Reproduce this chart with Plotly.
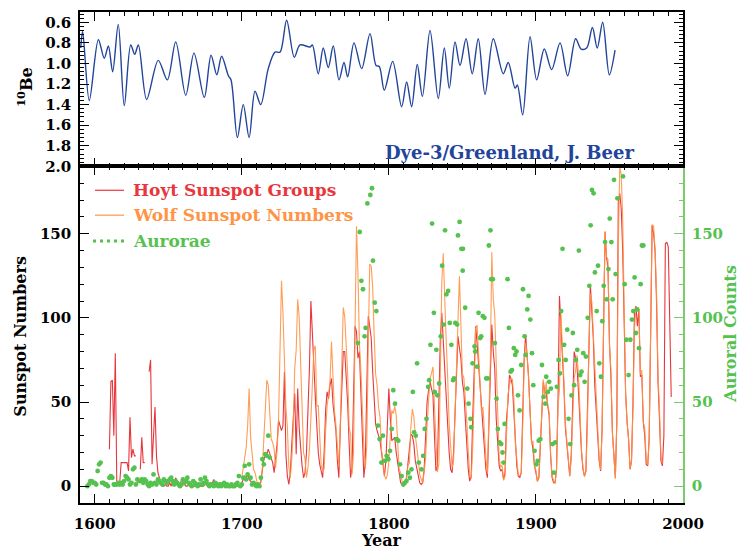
import plotly.graph_objects as go

# ---------------- data ----------------
be_years = [1590.5, 1591.8, 1596.3, 1602.5, 1606.5, 1609.3, 1612.2, 1616.0, 1620.1, 1624.5,
            1627.2, 1629.7, 1635.3, 1643.2, 1649.4, 1655.1, 1661.9, 1667.5, 1674.5, 1679.1,
            1683.0, 1686.3, 1690.9, 1692.7, 1697.0, 1701.0, 1705.0, 1709.0, 1712.9, 1718.0,
            1722.6, 1726.0, 1730.5, 1735.7, 1739.6, 1746.4, 1748.0, 1752.0, 1755.4, 1758.8,
            1762.2, 1766.1, 1769.5, 1772.0, 1776.3, 1781.5, 1787.2, 1791.3, 1793.5, 1796.9,
            1802.6, 1808.7, 1812.1, 1815.5, 1819.3, 1822.8, 1828.0, 1833.6, 1837.7, 1841.1,
            1845.0, 1848.4, 1852.5, 1856.7, 1860.8, 1865.4, 1871.0, 1877.8, 1881.2, 1885.8,
            1887.4, 1891.0, 1896.0, 1900.5, 1905.7, 1910.7, 1916.4, 1921.6, 1927.0, 1930.7,
            1934.5, 1938.4, 1941.7, 1945.4, 1949.9, 1953.8]
be_vals = [0.85, 0.69, 1.36, 0.77, 0.95, 0.83, 1.08, 0.62, 1.41, 0.82,
           0.91, 0.82, 1.35, 0.97, 1.16, 0.79, 1.31, 0.90, 1.33, 0.92,
           1.11, 0.93, 1.12, 1.16, 1.72, 1.40, 1.72, 1.27, 1.40, 1.05,
           0.89, 0.89, 0.58, 0.94, 0.82, 0.84, 0.82, 1.10, 0.85, 1.04,
           0.83, 1.16, 0.99, 1.13, 0.80, 1.05, 0.71, 1.02, 1.03, 1.26,
           0.98, 1.42, 1.18, 1.42, 1.01, 1.32, 0.68, 1.34, 0.85, 1.24,
           0.79, 1.02, 0.76, 1.10, 0.76, 1.30, 0.76, 1.10, 0.99, 1.24,
           1.21, 1.50, 0.74, 1.16, 0.86, 1.06, 0.80, 1.12, 0.76, 0.86,
           0.85, 0.65, 0.85, 0.60, 1.11, 0.87]

hoyt_start = 1610
hoyt_vals = [
    # 1610-1699
    22, 62, 63, 30, 79, 3, 2, 2, 14, 14, 14, 14, 14, 9, 41, 17, 22, 18, 18, None,
    None, 10, 29, 14, 14, None, None, 68, 75, 13, 30, 47, 18, 8, 5, 2, 0, 0, 1, 0,
    0, 2, 0, 3, 0, 5, 3, 1, 0, 4, 3, 1, 0, 0, 1, 0, 0, 0, 0, 0,
    1, 0, 0, 0, 0, 1, 3, 0, 0, 0, 2, 4, 0, 0, 1, 0, 1, 0, 0, 0,
    0, 0, 0, 0, 0, 0, 0, 0, 0, 1,
    # 1700-1799
    2, 4, 6, 5, 7, 4, 3, 2, 1, 0, 0, 0, 0, 3, 10, 16, 18, 19, 22, 19,
    17, 14, 8, 15, 25, 39, 35, 33, 36, 68, 19, 6, 1, 8, 25, 40, 55, 19, 58, 35,
    21, 12, 5, 8, 20, 40, 70, 110, 85, 72, 53, 35, 20, 13, 8, 5, 20, 45, 56, 52,
    60, 64, 49, 40, 33, 15, 5, 35, 65, 80, 80, 65, 49, 25, 5, 12, 55, 95, 92, 76,
    80, 55, 33, 5, 15, 60, 101, 95, 88, 68, 53, 37, 33, 30, 27, 20, 12, 6, 15, 35,
    # 1800-1899
    58, 40, 27, 28, 29, 20, 13, 6, 2, 1, 1, 1, 5, 15, 25, 31, 30, 25, 15, 10,
    5, 2, 1, 2, 10, 30, 50, 57, 62, 58, 54, 30, 9, 12, 60, 88, 103, 85, 72, 50,
    33, 20, 10, 8, 20, 45, 64, 89, 82, 76, 62, 56, 40, 25, 10, 3, 6, 40, 72, 95,
    85, 72, 58, 45, 38, 20, 10, 5, 35, 70, 96, 80, 70, 40, 28, 12, 9, 10, 4, 8,
    40, 50, 66, 64, 60, 45, 25, 12, 6, 5, 8, 40, 76, 90, 80, 65, 45, 27, 22, 12,
    # 1900-1992
    8, 3, 5, 25, 45, 62, 56, 55, 48, 42, 18, 5, 2, 2, 10, 50, 113, 96, 75, 60,
    35, 25, 13, 6, 18, 45, 80, 76, 70, 55, 33, 20, 10, 6, 9, 40, 80, 120, 107, 88,
    60, 45, 30, 15, 9, 35, 95, 151, 136, 130, 85, 65, 32, 14, 5, 38, 169, 174, 165, 140,
    100, 55, 38, 28, 10, 15, 50, 104, 107, 95, 105, 65, 66, 38, 30, 13, 12, 28, 90, 155,
    150, 140, 110, 62, 40, 15, 12, 30, 144, 145, 142, 95, 53,
]
hoyt_years = list(range(hoyt_start, hoyt_start + len(hoyt_vals)))

wolf_start = 1700
wolf_vals = [
    5, 11, 16, 23, 36, 58, 29, 20, 10, 8, 3, 0, 0, 2, 11, 27, 47, 63, 60, 39,
    28, 26, 22, 11, 21, 40, 78, 122, 103, 73, 47, 35, 11, 5, 16, 34, 70, 81, 111, 101,
    73, 40, 20, 16, 5, 11, 22, 40, 60, 80.9, 83.4, 47.7, 47.8, 30.7, 12.2, 9.6, 10.2, 32.4, 47.6, 54.0,
    62.9, 85.9, 61.2, 45.1, 36.4, 20.9, 11.4, 37.8, 69.8, 106.1, 100.8, 81.6, 66.5, 34.8, 30.6, 7.0, 19.8, 92.5, 154.4, 125.9,
    84.8, 68.1, 38.5, 22.8, 10.2, 24.1, 82.9, 132.0, 130.9, 118.1, 89.9, 66.6, 60.0, 46.9, 41.0, 21.3, 16.0, 6.4, 4.1, 6.8,
    14.5, 34.0, 45.0, 43.1, 47.5, 42.2, 28.1, 10.1, 8.1, 2.5, 0.0, 1.4, 5.0, 12.2, 13.9, 35.4, 45.8, 41.1, 30.1, 23.9,
    15.6, 6.6, 4.0, 1.8, 8.5, 16.6, 36.3, 49.6, 64.2, 67.0, 70.9, 47.8, 27.5, 8.5, 13.2, 56.9, 121.5, 138.3, 103.2, 85.7,
    64.6, 36.7, 24.2, 10.7, 15.0, 40.1, 61.5, 98.5, 124.7, 96.3, 66.6, 64.5, 54.1, 39.0, 20.6, 6.7, 4.3, 22.7, 54.8, 93.8,
    95.8, 77.2, 59.1, 44.0, 47.0, 30.5, 16.3, 7.3, 37.6, 74.0, 139.0, 111.2, 101.6, 66.2, 44.7, 17.0, 11.3, 12.4, 3.4, 6.0,
    32.3, 54.3, 59.7, 63.7, 63.5, 52.2, 25.4, 13.1, 6.8, 6.3, 7.1, 35.6, 73.0, 85.1, 78.0, 64.0, 41.8, 26.2, 26.7, 12.1,
    9.5, 2.7, 5.0, 24.4, 42.0, 63.5, 53.8, 62.0, 48.5, 43.9, 18.6, 5.7, 3.6, 1.4, 9.6, 47.4, 57.1, 103.9, 80.6, 63.6,
    37.6, 26.1, 14.2, 5.8, 16.7, 44.3, 63.9, 69.0, 77.8, 64.9, 35.7, 21.2, 11.1, 5.7, 8.7, 36.1, 79.7, 114.4, 109.6, 88.8,
    67.8, 47.5, 30.6, 16.3, 9.6, 33.2, 92.6, 151.6, 136.3, 134.7, 83.9, 69.4, 31.5, 13.9, 4.4, 38.0, 141.7, 190.2, 184.8, 159.0,
    112.3, 53.9, 37.5, 27.9, 10.2, 15.1, 47.0, 93.8, 105.9, 105.5, 104.5, 66.6, 68.9, 38.0, 34.5, 15.5, 12.6, 27.5, 92.5, 155.4,
    154.6, 140.4, 115.9, 66.6, 45.9, 17.9, 13.4,
]
wolf_years = list(range(wolf_start, wolf_start + len(wolf_vals)))

aur_early_start = 1595
aur_early_vals = [
    0, 1, 3, 3, 2, 2, 1, 9, 13, 14, 2, 2, 1, 1, 0, 5, 6, 5, 1, 1,
    1, 2, 1, 2, 1, 3, 6, 5, 4, 1, 2, 10, 11, 1, 4, 3, 3, 4, 2, 4,
    3, 1, 0, 2, 1, 7, 2, 1, 4, 3, 2, 1, 4, 3, 2, 3, 4, 5, 3, 1,
    3, 2, 1, 0, 1, 4, 2, 3, 5, 2, 1, 0, 3, 2, 1, 0, 1, 4, 1, 2,
    5, 3, 1, 0, 1, 1, 0, 2, 1, 0, 1, 0, 1, 2, 0, 1, 0, 0, 1, 0,
    0, 1, 2, 6, 0, 1, 5, 12, 4, 7, 13, 5, 1, 2, 1, 0, 1, 0, 5, 16,
    13, 19, 18, 30, 17,
]
aur_late_years = [
    1779.0, 1780.2, 1781.3, 1782.4, 1783.5, 1784.2, 1785.4, 1787.4, 1788.5, 1789.2,
    1790.4, 1791.5, 1792.6, 1793.7, 1794.9, 1796.0, 1797.4, 1798.5, 1799.6, 1800.8,
    1801.9, 1803.0, 1804.2, 1805.3, 1806.4, 1807.6, 1808.7, 1809.8, 1810.9, 1812.0,
    1813.2, 1814.3, 1815.4, 1816.3, 1817.2, 1818.3, 1819.2, 1820.4, 1822.2, 1823.3,
    1824.4, 1825.6, 1826.7, 1827.4, 1828.3, 1829.4, 1830.6, 1831.2, 1832.3, 1833.0,
    1834.2, 1835.3, 1836.2, 1837.3, 1838.2, 1839.1, 1840.3, 1841.4, 1842.5, 1843.7,
    1844.3, 1845.2, 1846.4, 1847.0, 1848.1, 1849.3, 1850.4, 1850.2, 1851.9, 1853.3,
    1854.2, 1855.5, 1856.0, 1856.9, 1858.3, 1858.7, 1860.0, 1861.0, 1862.1, 1862.8,
    1863.9, 1865.0, 1866.2, 1867.3, 1868.0, 1869.1, 1869.6, 1870.7, 1872.1, 1873.2,
    1874.1, 1875.3, 1876.4, 1877.3, 1878.0, 1878.7, 1880.7, 1881.6, 1882.8, 1883.7,
    1885.0, 1885.9, 1886.8, 1887.8, 1888.9, 1890.0, 1891.2, 1892.3, 1893.0, 1894.1,
    1895.0, 1896.2, 1897.3, 1898.2, 1899.1, 1900.3, 1901.2, 1901.9, 1903.0, 1904.1,
    1905.2, 1906.4, 1907.0, 1908.1, 1909.0, 1910.2, 1911.3, 1912.2, 1913.1, 1914.2,
    1915.4, 1916.3, 1917.2, 1918.1, 1919.2, 1920.2, 1921.3, 1922.2, 1923.3, 1924.2,
    1925.1, 1926.0, 1927.2, 1928.1, 1929.2, 1930.1, 1931.0, 1932.2, 1933.1, 1934.0,
    1935.2, 1936.3, 1937.2, 1938.1, 1939.2, 1940.1, 1941.3, 1942.2, 1943.1, 1944.2,
    1945.1, 1946.1, 1947.0, 1948.1, 1949.3, 1950.2, 1951.3, 1952.2, 1953.1, 1954.2,
    1955.4, 1959.2, 1960.3, 1961.5, 1963.0, 1964.2, 1965.3, 1966.2, 1967.1, 1968.0,
    1968.9, 1970.1, 1971.2, 1972.1, 1973.0,
]
aur_late_vals = [
    85, 151, 122, 117, 89, 94, 168, 173, 177, 134,
    109, 104, 36, 28, 14, 30, 15, 18, 16, 21,
    34, 57, 49, 28, 27, 13, 6, 1, 2, 3,
    8, 5, 10, 56, 32, 30, 73, 14, 10, 18,
    34, 40, 59, 63, 84, 156, 103, 56, 81, 54,
    61, 89, 131, 96, 152, 114, 116, 97, 84, 63,
    64, 97, 96, 149, 157, 141, 141, 128, 106, 58,
    49, 40, 35, 73, 83, 80, 71, 103, 88, 89,
    101, 100, 64, 64, 143, 152, 123, 123, 85, 52,
    34, 26, 25, 20, 14, 37, 123, 94, 68, 69,
    82, 78, 80, 54, 45, 72, 117, 89, 78, 105,
    113, 99, 79, 60, 21, 13, 15, 27, 28, 72,
    53, 49, 65, 56, 62, 58, 25, 8, 26, 59,
    75, 67, 104, 141, 84, 75, 93, 40, 25, 54,
    91, 60, 75, 81, 140, 66, 68, 79, 62, 77,
    100, 119, 155, 176, 174, 127, 104, 131, 73, 65,
    98, 119, 145, 111, 129, 159, 145, 111, 182, 126,
    171, 184, 120, 87, 66, 87, 99, 104, 124, 91,
    105, 82, 120, 143, 143,
]
aur_years = list(range(aur_early_start, aur_early_start + len(aur_early_vals))) + aur_late_years
aur_vals = aur_early_vals + aur_late_vals

x_ticks = [1600, 1700, 1800, 1900, 2000]
ss_ticks = [0, 50, 100, 150]
be_ticks = [0.6, 0.8, 1.0, 1.2, 1.4, 1.6, 1.8, 2.0]

# ---------------- style ----------------
FONT = "DejaVu Serif"
C_BE = "#22449b"
C_HOYT = "#e8363d"
C_WOLF = "#ff9444"
C_AUR = "#55c24f"
C_RAX = "#7acc6a"

W, H = 741, 554
L, R, T, B = 80, 58, 10, 51
split = (503 - 165) / (H - T - B)

fig = go.Figure()
fig.add_trace(go.Scatter(x=be_years, y=be_vals, mode="lines", xaxis="x2", yaxis="y3",
                         line=dict(color=C_BE, width=1.4, shape="spline", smoothing=0.9),
                         showlegend=False))
fig.add_trace(go.Scatter(x=hoyt_years, y=hoyt_vals, mode="lines", line=dict(color=C_HOYT, width=1.1),
                         connectgaps=False, showlegend=False))
fig.add_trace(go.Scatter(x=wolf_years, y=wolf_vals, mode="lines", line=dict(color=C_WOLF, width=1.1),
                         opacity=0.9, showlegend=False))
fig.add_trace(go.Scatter(x=aur_years, y=aur_vals, mode="markers", yaxis="y2",
                         marker=dict(color=C_AUR, size=4.8), showlegend=False))

tickfont = dict(family=FONT, size=15, color="black", weight="bold")
common_x = dict(range=[1590, 2000], showline=True, linecolor="black", linewidth=1.5,
                ticks="inside", ticklen=9, tickwidth=1.2, tickcolor="black",
                tickvals=x_ticks, showgrid=False, zeroline=False, mirror="ticks",
                minor=dict(ticks="inside", ticklen=4, dtick=10, tick0=1600, tickcolor="black", tickwidth=1))

fig.update_layout(
    width=W, height=H, margin=dict(l=L, r=R, t=T, b=B),
    paper_bgcolor="white", plot_bgcolor="white",
    xaxis=dict(**common_x, anchor="y", domain=[0, 1], tickfont=tickfont, ticklabelstandoff=6),
    xaxis2=dict(**common_x, anchor="y3", domain=[0, 1], showticklabels=False),
    yaxis=dict(domain=[0, split], range=[-10, 190], showline=True, linecolor="black", linewidth=1.5,
               ticks="inside", ticklen=9, tickwidth=1.2, tickcolor="black", tickvals=ss_ticks,
               tickfont=tickfont, showgrid=False, zeroline=False, ticklabelstandoff=4,
               minor=dict(ticks="inside", ticklen=4, dtick=10, tick0=0, tickcolor="black", tickwidth=1)),
    yaxis2=dict(overlaying="y", side="right", anchor="x", range=[-10, 190], showline=True,
                linecolor=C_RAX, linewidth=1.5, ticks="inside", ticklen=9, tickwidth=1.2, tickcolor=C_RAX,
                tickvals=ss_ticks, tickfont=dict(family=FONT, size=15, color=C_AUR, weight="bold"),
                showgrid=False, zeroline=False, ticklabelstandoff=4,
                minor=dict(ticks="inside", ticklen=4, dtick=10, tick0=0, tickcolor=C_RAX, tickwidth=1)),
    yaxis3=dict(domain=[split, 1], range=[2.0, 0.5], showline=True, linecolor="black", linewidth=1.5,
                ticks="inside", ticklen=9, tickwidth=1.2, tickcolor="black", tickvals=be_ticks,
                tickformat=".1f", tickfont=tickfont, showgrid=False, zeroline=False, mirror="ticks",
                anchor="x2", ticklabelstandoff=4,
                minor=dict(ticks="inside", ticklen=4, dtick=0.04, tick0=0.6, tickcolor="black", tickwidth=1)),
)

pw, ph = W - L - R, H - T - B
def px(x):
    return (x - L) / pw
def py(y):
    return (H - B - y) / ph

ann = []
title_font = dict(family=FONT, size=16, color="black", weight="bold")
ann.append(dict(text="Year", x=0.5, y=py(541), xref="paper", yref="paper", showarrow=False,
                font=title_font, xanchor="center", yanchor="middle"))
ann.append(dict(text="Sunspot Numbers", x=px(21), y=py(336), xref="paper", yref="paper", showarrow=False,
                font=title_font, textangle=-90, xanchor="center", yanchor="middle"))
ann.append(dict(text="Auroral Counts", x=px(731), y=py(333), xref="paper", yref="paper", showarrow=False,
                font=dict(family=FONT, size=16, color=C_AUR, weight="bold"), textangle=-90,
                xanchor="center", yanchor="middle"))
ann.append(dict(text="<sup>10</sup>Be", x=px(25), y=py(86), xref="paper", yref="paper", showarrow=False,
                font=dict(family=FONT, size=16, color="black", weight="bold"), textangle=-90,
                xanchor="center", yanchor="middle"))
ann.append(dict(text="Dye-3/Greenland, J. Beer", x=px(636), y=py(151), xref="paper", yref="paper",
                showarrow=False, font=dict(family=FONT, size=18, color=C_BE, weight="bold"),
                xanchor="right", yanchor="middle"))

legend_rows = [("Hoyt Sunspot Groups", C_HOYT, 189), ("Wolf Sunspot Numbers", C_WOLF, 214), ("Aurorae", C_AUR, 240)]
shapes = []
for i, (name, col, yy) in enumerate(legend_rows):
    ann.append(dict(text=name, x=px(131), y=py(yy), xref="paper", yref="paper", showarrow=False,
                    font=dict(family=FONT, size=17, color=col, weight="bold"), xanchor="left", yanchor="middle"))
    if i < 2:
        shapes.append(dict(type="line", xref="paper", yref="paper", x0=px(95), x1=px(124), y0=py(yy), y1=py(yy),
                           line=dict(color=col, width=1.2)))
    else:
        shapes.append(dict(type="line", xref="paper", yref="paper", x0=px(93), x1=px(126), y0=py(yy), y1=py(yy),
                           line=dict(color=col, width=3, dash="3px,4px")))

fig.update_layout(annotations=ann, shapes=shapes)
fig.write_html("out.html")
